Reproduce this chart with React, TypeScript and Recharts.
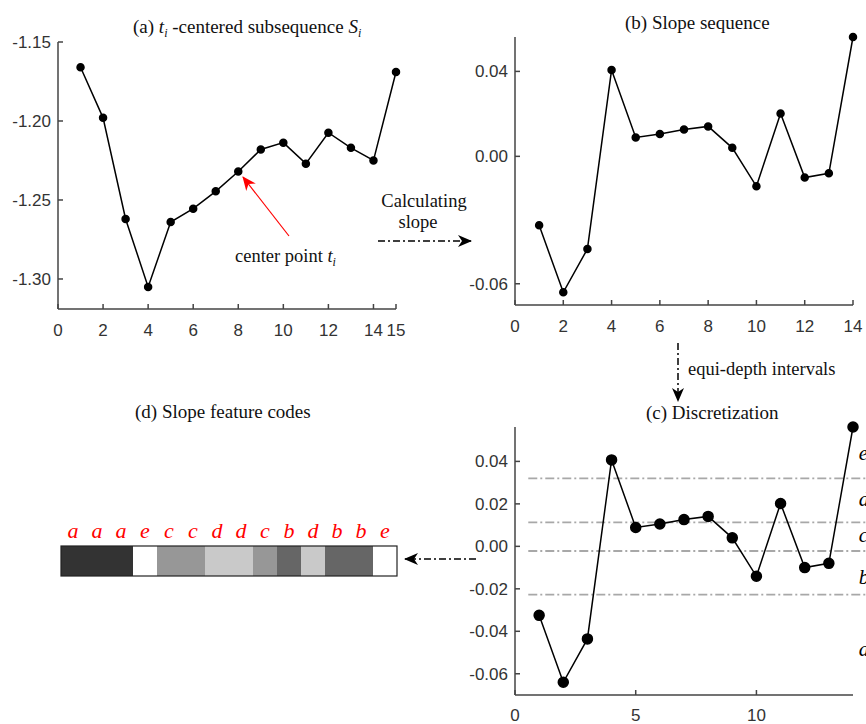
// Four-panel figure: subsequence -> slope sequence -> discretization -> slope codes.
import { BarChart, Bar, Cell, LabelList, Line, LineChart, ReferenceDot, ReferenceLine, XAxis, YAxis } from "recharts";

// (a) t_i-centered subsequence S_i
const subseqX = [1, 2, 3, 4, 5, 6, 7, 8, 9, 10, 11, 12, 13, 14, 15];
const subseqY = [
  -1.166, -1.198, -1.262, -1.305, -1.264, -1.2555, -1.2445, -1.232, -1.218, -1.2137, -1.227, -1.2074, -1.217,
  -1.225, -1.169,
];
const aTicksX = [0, 2, 4, 6, 8, 10, 12, 14, 15];
const aTicksY = [-1.3, -1.25, -1.2, -1.15];

// (b)/(c) slope sequence
const slopeX = [1, 2, 3, 4, 5, 6, 7, 8, 9, 10, 11, 12, 13, 14];
const slopeY = [
  -0.0325, -0.064, -0.0436, 0.0407, 0.0089, 0.0105, 0.0126, 0.0141, 0.004, -0.0141, 0.0202, -0.01, -0.008, 0.0562,
];
const bTicksX = [0, 2, 4, 6, 8, 10, 12, 14];
const bTicksY = [-0.06, 0, 0.04];
const cTicksX = [0, 5, 10];
const cTicksY = [-0.06, -0.04, -0.02, 0, 0.02, 0.04];

// equi-depth interval boundaries and the code of each band
const thresholds = [0.032, 0.0113, -0.0022, -0.0227];
const bandLetters = ["e", "d", "c", "b", "a"];
const bandCenters = [0.0443, 0.0225, 0.0056, -0.014, -0.048];

// (d) slope feature codes
const codes = ["a", "a", "a", "e", "c", "c", "d", "d", "c", "b", "d", "b", "b", "e"];
const codeColor: Record<string, string> = {
  a: "#333333",
  b: "#666666",
  c: "#979797",
  d: "#c9c9c9",
  e: "#ffffff",
};

const subseqData = subseqX.map((x, i) => ({ x, y: subseqY[i] }));
const slopeData = slopeX.map((x, i) => ({ x, y: slopeY[i] }));
const codeData = codes.map((code, i) => ({ i, code, v: 1 }));

const SANS = "'Liberation Sans', Arial, sans-serif";
const SERIF = "'Liberation Serif', 'Times New Roman', serif";
const tick = { fill: "#333", fontSize: 17, fontFamily: SANS };
const axisLine = { stroke: "#444", strokeWidth: 1.5 };
const fmt2 = (v: number) => v.toFixed(2);

export default function App() {
  return (
    <div style={{ position: "absolute", left: 0, top: 0, width: 866, height: 724, background: "#fff", overflow: "hidden" }}>
      <div style={{ position: "absolute", left: 0, top: 0 }}>
        <LineChart width={420} height={340} data={subseqData} margin={{ top: 42, right: 24, bottom: 1, left: 0 }}>
          <XAxis dataKey="x" type="number" domain={[0, 15]} ticks={aTicksX} interval={0} height={30}
            tickSize={-5} tickMargin={20} tick={tick} axisLine={axisLine} tickLine={axisLine} />
          <YAxis type="number" domain={[-1.319, -1.15]} ticks={aTicksY} width={58} interval={0}
            tickSize={-5} tickMargin={12} tick={tick} axisLine={axisLine} tickLine={axisLine} tickFormatter={fmt2} />
          <Line dataKey="y" stroke="#000" strokeWidth={1.5} dot={{ r: 3.5, fill: "#000", stroke: "#000" }}
            isAnimationActive={false} />
        </LineChart>
      </div>

      <div style={{ position: "absolute", left: 440, top: 0 }}>
        <LineChart width={426} height={340} data={slopeData} margin={{ top: 37, right: 13, bottom: 5, left: 0 }}>
          <XAxis dataKey="x" type="number" domain={[0, 14]} ticks={bTicksX} interval={0} height={30}
            tickSize={-5} tickMargin={20} tick={tick} axisLine={axisLine} tickLine={axisLine} />
          <YAxis type="number" domain={[-0.07, 0.0562]} ticks={bTicksY} width={75} interval={0}
            tickSize={-5} tickMargin={12} tick={tick} axisLine={axisLine} tickLine={axisLine} tickFormatter={fmt2} />
          <Line dataKey="y" stroke="#000" strokeWidth={1.5} dot={{ r: 3.5, fill: "#000", stroke: "#000" }}
            isAnimationActive={false} />
        </LineChart>
      </div>

      <div style={{ position: "absolute", left: 440, top: 340 }}>
        <LineChart width={426} height={384} data={slopeData} margin={{ top: 87, right: 13, bottom: 0, left: 0 }}>
          <XAxis dataKey="x" type="number" domain={[0, 14]} ticks={cTicksX} interval={0} height={29}
            tickSize={-5} tickMargin={19} tick={tick} axisLine={axisLine} tickLine={axisLine} />
          <YAxis type="number" domain={[-0.07, 0.0562]} ticks={cTicksY} width={75} interval={0}
            tickSize={-5} tickMargin={12} tick={tick} axisLine={axisLine} tickLine={axisLine} tickFormatter={fmt2} />
          {thresholds.map((t) => (
            <ReferenceLine key={t} segment={[{ x: 0.55, y: t }, { x: 14.6, y: t }]} ifOverflow="visible"
              stroke="#a8a8a8" strokeWidth={1.8} strokeDasharray="9 3 2 3" />
          ))}
          <Line dataKey="y" stroke="#000" strokeWidth={1.5} dot={{ r: 5, fill: "#000", stroke: "#000" }}
            isAnimationActive={false} />
          {bandLetters.map((l, i) => (
            <ReferenceDot key={l} x={14.2} y={bandCenters[i]} r={1} fill="none" stroke="none" ifOverflow="visible"
              label={{ value: l, position: "right", offset: 0, fill: "#000", fontSize: 21, fontStyle: "italic",
                fontFamily: SERIF }} />
          ))}
        </LineChart>
      </div>

      <div style={{ position: "absolute", left: 61, top: 510 }}>
        <BarChart width={336} height={66} data={codeData} margin={{ top: 36, right: 0, bottom: 0, left: 0 }}
          barCategoryGap={0}>
          <XAxis dataKey="i" hide />
          <YAxis hide domain={[0, 1]} />
          <Bar dataKey="v" isAnimationActive={false}>
            {codeData.map((d) => (
              <Cell key={d.i} fill={codeColor[d.code]} />
            ))}
            <LabelList dataKey="code" position="top" offset={8} fill="#ff0000" fontSize={22} fontStyle="italic"
              fontFamily={SERIF} />
          </Bar>
        </BarChart>
      </div>

      <svg width={866} height={724} style={{ position: "absolute", left: 0, top: 0, pointerEvents: "none" }}>
        <defs>
          <marker id="blk" viewBox="0 0 14 12" refX={13} refY={6} markerWidth={14} markerHeight={12}
            markerUnits="userSpaceOnUse" orient="auto">
            <path d="M0,0 L14,6 L0,12 L4,6 z" fill="#000" />
          </marker>
          <marker id="red" viewBox="0 0 14 12" refX={13} refY={6} markerWidth={14} markerHeight={12}
            markerUnits="userSpaceOnUse" orient="auto">
            <path d="M0,0 L14,6 L0,12 L4,6 z" fill="#ff0000" />
          </marker>
        </defs>
        <g fontFamily={SERIF} fontSize={19} fill="#111">
          <text x={133} y={33}>
            (a) <tspan fontStyle="italic">t</tspan>
            <tspan fontStyle="italic" fontSize={12} dy={4}>i</tspan>
            <tspan dy={-4}> -centered subsequence </tspan>
            <tspan fontStyle="italic">S</tspan>
            <tspan fontStyle="italic" fontSize={12} dy={4}>i</tspan>
          </text>
          <text x={625} y={29}>(b) Slope sequence</text>
          <text x={646} y={419}>(c) Discretization</text>
          <text x={135} y={418}>(d) Slope feature codes</text>
        </g>
        <g fontFamily={SERIF} fontSize={18.5} fill="#111">
          <text x={424} y={207} textAnchor="middle">Calculating</text>
          <text x={418} y={228} textAnchor="middle">slope</text>
          <text x={235} y={262}>
            center point <tspan fontStyle="italic">t</tspan>
            <tspan fontStyle="italic" fontSize={12} dy={4}>i</tspan>
          </text>
          <text x={688} y={375}>equi-depth intervals</text>
        </g>
        <line x1={378} y1={241} x2={471} y2={241} stroke="#000" strokeWidth={1.5} strokeDasharray="7 3 2 3"
          markerEnd="url(#blk)" />
        <line x1={289} y1={236} x2={243} y2={177} stroke="#ff0000" strokeWidth={1.2} markerEnd="url(#red)" />
        <line x1={678} y1={343} x2={678} y2={401} stroke="#000" strokeWidth={1.5} strokeDasharray="7 3 2 3"
          markerEnd="url(#blk)" />
        <line x1={476} y1={559} x2={405} y2={559} stroke="#000" strokeWidth={1.5} strokeDasharray="7 3 2 3"
          markerEnd="url(#blk)" />
        <rect x={61} y={546} width={336} height={30} fill="none" stroke="#222" strokeWidth={1.2} />
      </svg>
    </div>
  );
}
